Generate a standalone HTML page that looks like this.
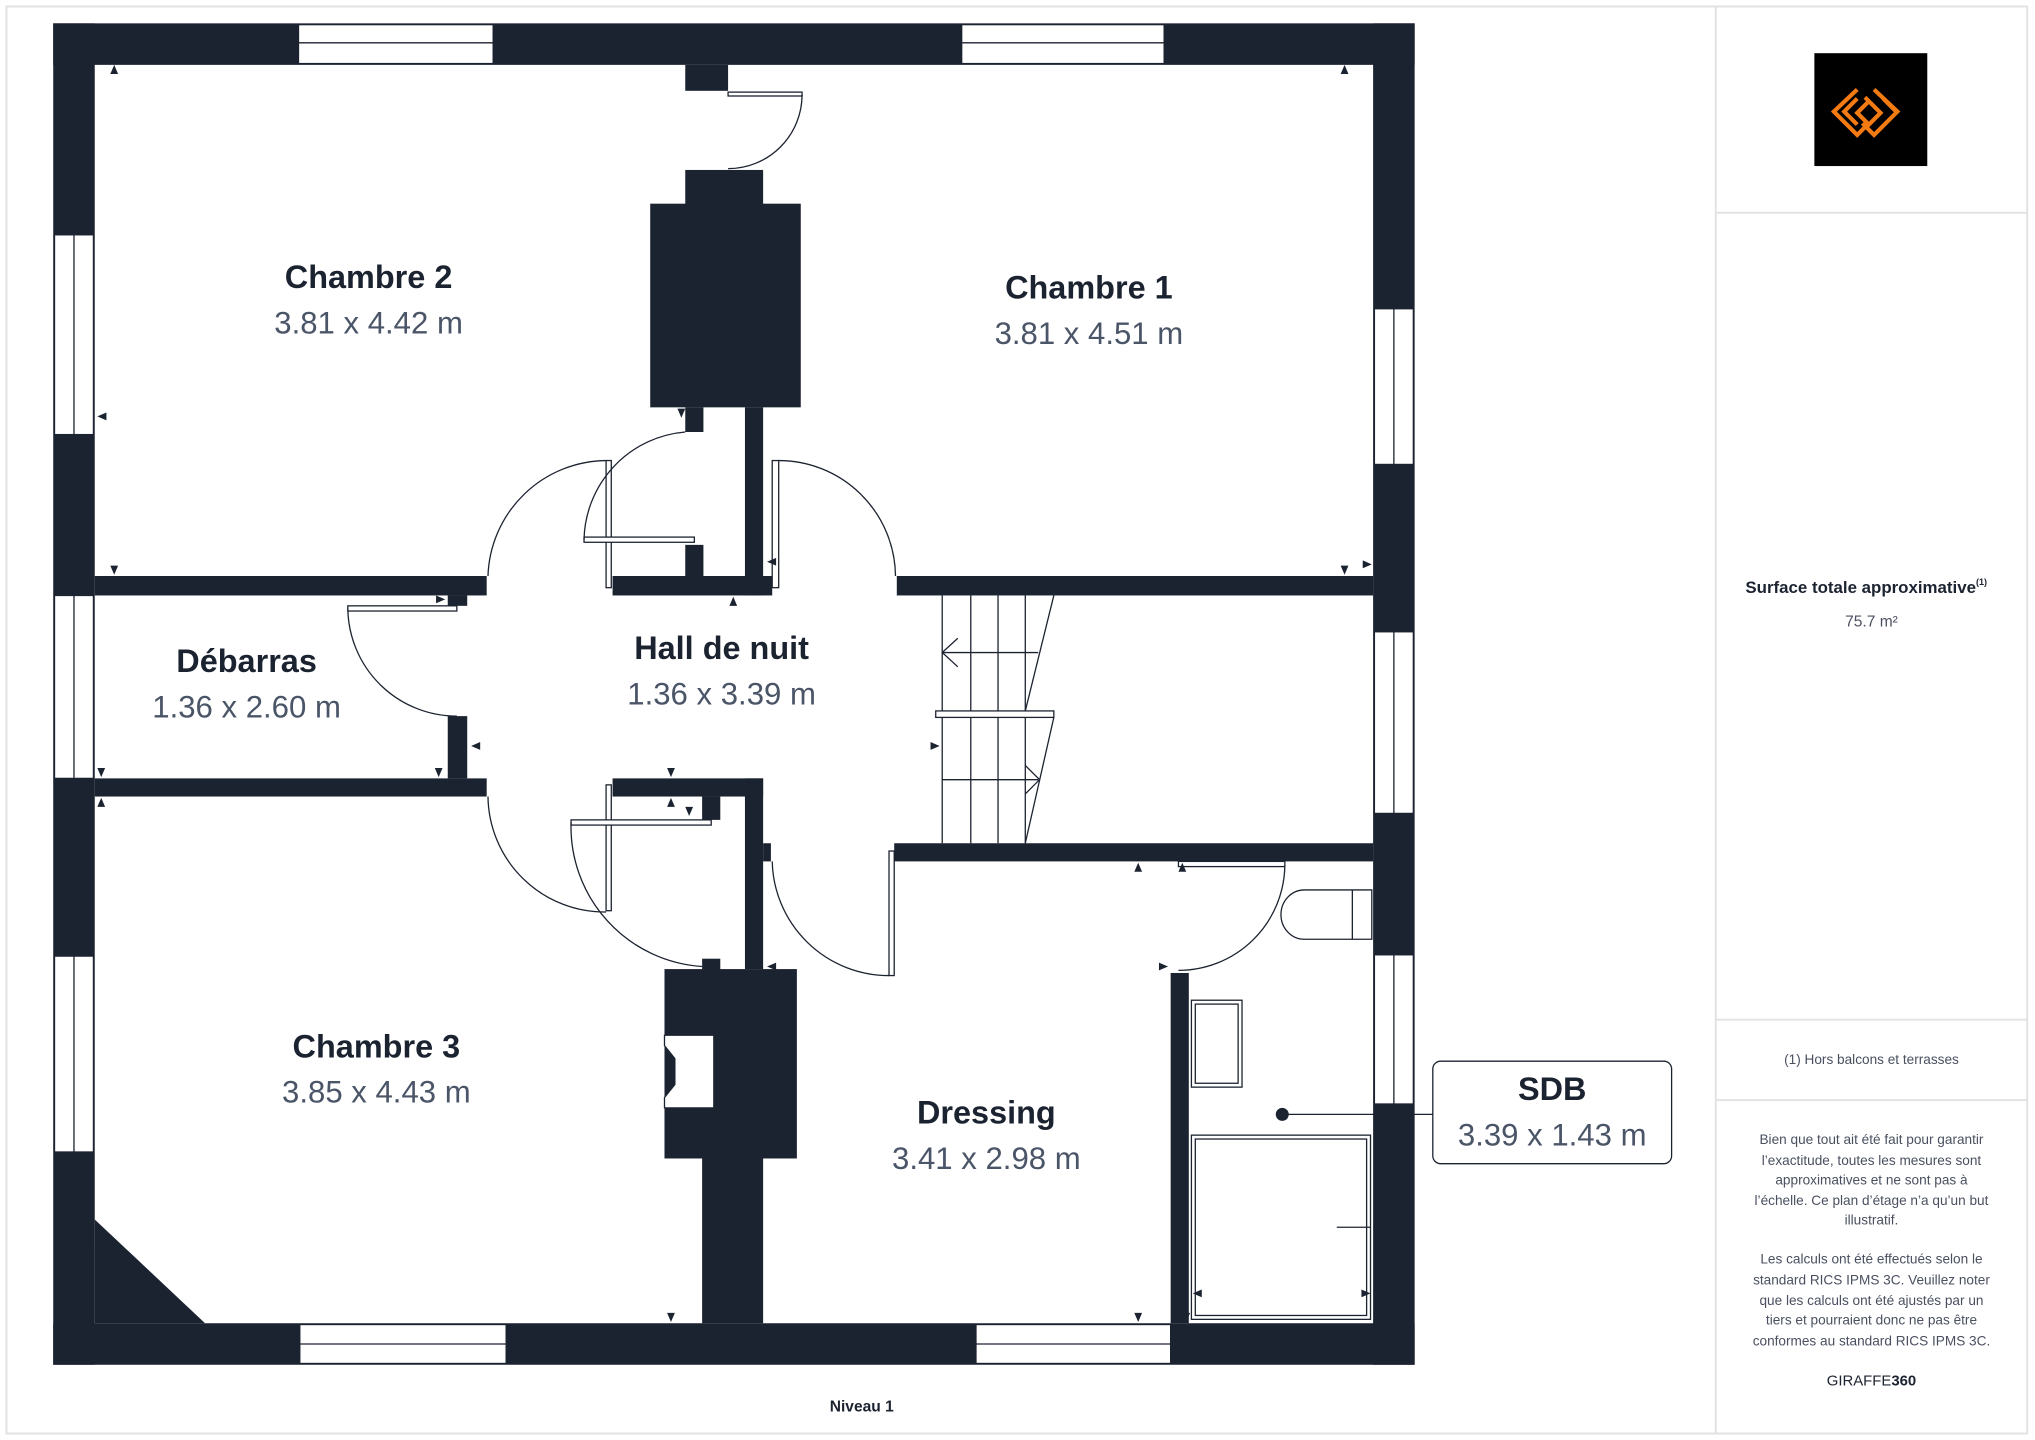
<!DOCTYPE html>
<html><head><meta charset="utf-8"><style>
html,body{margin:0;padding:0;background:#fff;}
svg{display:block;}
text{font-family:"Liberation Sans",sans-serif;}
</style></head><body>
<svg width="2035" height="1440" viewBox="0 0 1568 1110" preserveAspectRatio="none" xmlns="http://www.w3.org/2000/svg">
<rect x="0" y="0" width="1568" height="1110" fill="#fff"/>
<rect x="5" y="5" width="1557" height="1100" fill="none" stroke="#e2e2e2" stroke-width="1.5"/>
<line x1="1322" y1="5" x2="1322" y2="1105" stroke="#e2e2e2" stroke-width="1.5"/>
<line x1="1322" y1="164" x2="1562" y2="164" stroke="#e2e2e2" stroke-width="1.5"/>
<line x1="1322" y1="786" x2="1562" y2="786" stroke="#e2e2e2" stroke-width="1.5"/>
<line x1="1322" y1="848" x2="1562" y2="848" stroke="#e2e2e2" stroke-width="1.5"/>
<!-- logo -->
<rect x="1398" y="41" width="87" height="87" fill="#000"/>
<g fill="none" stroke="#f47a12" stroke-width="3.2">
<path d="M1431,69 L1413,86 L1431,104 L1440,95"/>
<path d="M1431,76 L1421,86 L1431,96"/>
<path d="M1437,75 L1449,87 L1440,96 L1431,87 L1440,78"/>
<path d="M1444,69 L1462,86 L1444,104 L1435,95"/>
<path d="M1451,76 L1461,86"/>
</g>
<g font-size="13" fill="#1c2330" text-anchor="middle">
<text x="1438" y="457" font-weight="bold">Surface totale approximative<tspan font-size="7" dy="-6">(1)</tspan></text>
<text x="1442" y="483" fill="#4a5060" font-size="12">75.7 m²</text>
<text x="1442" y="820" fill="#4a5060" font-size="10.5">(1) Hors balcons et terrasses</text>
<g fill="#4a5060" font-size="10.5">
<text x="1442" y="882">Bien que tout ait été fait pour garantir</text>
<text x="1442" y="898">l’exactitude, toutes les mesures sont</text>
<text x="1442" y="913">approximatives et ne sont pas à</text>
<text x="1442" y="929">l’échelle. Ce plan d’étage n’a qu’un but</text>
<text x="1442" y="944">illustratif.</text>
<text x="1442" y="974">Les calculs ont été effectués selon le</text>
<text x="1442" y="990">standard RICS IPMS 3C. Veuillez noter</text>
<text x="1442" y="1006">que les calculs ont été ajustés par un</text>
<text x="1442" y="1021">tiers et pourraient donc ne pas être</text>
<text x="1442" y="1037">conformes au standard RICS IPMS 3C.</text>
</g>
<text x="1442" y="1068" font-size="11.5">GIRAFFE<tspan font-weight="bold">360</tspan></text>
<text x="664" y="1088" font-size="12" font-weight="bold">Niveau 1</text>
</g>

<!-- walls -->
<g fill="#1c2330">
<rect x="41" y="18" width="1049" height="32"/>
<rect x="41" y="1020" width="1049" height="32"/>
<rect x="41" y="18" width="32" height="1034"/>
<rect x="1058" y="18" width="32" height="1034"/>
<polygon points="73,940 158,1020 73,1020"/>
<rect x="73" y="444" width="302" height="15"/>
<rect x="73" y="600" width="302" height="14"/>
<rect x="345" y="552" width="15" height="48"/>
<rect x="345" y="459" width="15" height="8"/>
<rect x="528" y="50" width="33" height="20"/>
<rect x="528" y="131" width="60" height="30"/>
<rect x="501" y="157" width="116" height="157"/>
<rect x="528" y="314" width="14" height="19"/>
<rect x="574" y="314" width="14" height="145"/>
<rect x="528" y="420" width="14" height="30"/>
<rect x="472" y="444" width="123" height="15"/>
<rect x="691" y="444" width="367" height="15"/>
<rect x="472" y="600" width="116" height="14"/>
<rect x="574" y="600" width="14" height="147"/>
<rect x="541" y="614" width="14" height="18"/>
<rect x="689" y="650" width="369" height="14"/>
<rect x="512" y="747" width="102" height="146"/>
<rect x="541" y="893" width="47" height="127"/>
<rect x="541" y="739" width="14" height="10"/>
<rect x="588" y="650" width="6" height="14"/>
<rect x="902" y="750" width="14" height="270"/>
</g>
<!-- windows -->
<g fill="#fff" stroke="#1c2330" stroke-width="1">
<rect x="230" y="19" width="150" height="30"/>
<rect x="741" y="19" width="156" height="30"/>
<rect x="231" y="1021" width="159" height="30"/>
<rect x="752" y="1021" width="150" height="30"/>
<rect x="42" y="181" width="30" height="154"/>
<rect x="42" y="459" width="30" height="141"/>
<rect x="42" y="737" width="30" height="151"/>
<rect x="1059" y="238" width="30" height="120"/>
<rect x="1059" y="487" width="30" height="140"/>
<rect x="1059" y="736" width="30" height="115"/>
</g>
<g stroke="#1c2330" stroke-width="1">
<line x1="230" y1="33" x2="380" y2="33"/><line x1="741" y1="33" x2="897" y2="33"/>
<line x1="231" y1="1036" x2="390" y2="1036"/><line x1="752" y1="1036" x2="902" y2="1036"/>
<line x1="57" y1="181" x2="57" y2="335"/><line x1="57" y1="459" x2="57" y2="600"/><line x1="57" y1="737" x2="57" y2="888"/>
<line x1="1074" y1="238" x2="1074" y2="358"/><line x1="1074" y1="487" x2="1074" y2="627"/><line x1="1074" y1="736" x2="1074" y2="851"/>
</g>
<!-- doors -->
<g fill="#fff" stroke="#1c2330" stroke-width="1">
<rect x="561" y="71" width="57" height="3"/>
<rect x="467" y="355" width="4" height="98"/>
<rect x="450" y="414" width="85" height="4"/>
<rect x="595" y="355" width="5" height="98"/>
<rect x="268" y="467" width="84" height="4"/>
<rect x="467" y="605" width="4" height="97"/>
<rect x="440" y="632" width="108" height="4"/>
<rect x="685" y="656" width="4" height="96"/>
<rect x="908" y="664" width="82" height="4"/>
</g>
<g fill="none" stroke="#1c2330" stroke-width="1">
<path d="M618,73 A57,57 0 0 1 561,130"/>
<path d="M467,355 A92,92 0 0 0 376,444"/>
<path d="M450,416 A85,85 0 0 1 528,333"/>
<path d="M600,355 A90,90 0 0 1 690,444"/>
<path d="M268,469 A84,84 0 0 0 352,552"/>
<path d="M376,614 A90,90 0 0 0 467,703"/>
<path d="M440,634 A108,108 0 0 0 541,745"/>
<path d="M595,664 A90,90 0 0 0 685,752"/>
<path d="M990,667 A82,82 0 0 1 908,748"/>
<!-- stairs -->
<line x1="726" y1="459" x2="726" y2="650"/><line x1="748" y1="459" x2="748" y2="650"/>
<line x1="769" y1="459" x2="769" y2="650"/><line x1="790" y1="459" x2="790" y2="650"/>
<line x1="812" y1="459" x2="790" y2="548"/><line x1="812" y1="553" x2="790" y2="650"/>
<line x1="726" y1="503" x2="800" y2="503"/><path d="M738,492 L726,503 L738,514"/>
<line x1="726" y1="601" x2="800" y2="601"/><path d="M790,590 L801,601 L790,612"/>
<rect x="721" y="548" width="91" height="5" fill="#fff"/>
<!-- SDB fixtures -->
<path d="M1057,686 L1005,686 A18,19 0 0 0 1005,724 L1057,724 Z"/>
<line x1="1042" y1="686" x2="1042" y2="724"/>
<rect x="918" y="771" width="39" height="67"/><rect x="921" y="774" width="33" height="61"/>
<rect x="918" y="875" width="138" height="142"/><rect x="921" y="878" width="132" height="136"/>
<line x1="1030" y1="946" x2="1056" y2="946"/>
<path d="M512,798 L550,798 L550,854 L512,854 L512,846 L520,836 L520,816 L512,806 Z" fill="#fff"/>
<line x1="988" y1="859" x2="1104" y2="859"/>
</g>
<circle cx="988" cy="859" r="5" fill="#1c2330"/>
<rect x="1104" y="818" width="184" height="79" rx="6" fill="#fff" stroke="#1c2330" stroke-width="1"/>
<!-- markers -->
<g fill="#1c2330">
<path d="M85,57 l3,-7 3,7z"/><path d="M1033,57 l3,-7 3,7z"/>
<path d="M85,436 l3,7 3,-7z"/><path d="M1033,436 l3,7 3,-7z"/>
<path d="M82,318 l-7,3 7,3z"/><path d="M1050,432 l7,3 -7,3z"/>
<path d="M562,467 l3,-7 3,7z"/><path d="M522,315 l3,7 3,-7z"/>
<path d="M598,430 l-7,3 7,3z"/><path d="M370,572 l-7,3 7,3z"/>
<path d="M336,459 l7,3 -7,3z"/><path d="M75,592 l3,7 3,-7z"/><path d="M335,592 l3,7 3,-7z"/>
<path d="M75,622 l3,-7 3,7z"/><path d="M514,622 l3,-7 3,7z"/><path d="M528,622 l3,7 3,-7z"/>
<path d="M514,592 l3,7 3,-7z"/><path d="M717,572 l7,3 -7,3z"/>
<path d="M598,742 l-7,3 7,3z"/><path d="M874,672 l3,-7 3,7z"/><path d="M908,672 l3,-7 3,7z"/>
<path d="M893,742 l7,3 -7,3z"/><path d="M514,1012 l3,7 3,-7z"/><path d="M874,1012 l3,7 3,-7z"/>
<path d="M911,1012 l3,7 3,-7z"/><path d="M926,994 l-7,3 7,3z"/><path d="M1049,994 l7,3 -7,3z"/>
</g>
<!-- labels -->
<g text-anchor="middle">
<g font-weight="bold" font-size="25" fill="#1c2330">
<text x="284" y="222">Chambre 2</text>
<text x="839" y="230">Chambre 1</text>
<text x="190" y="518">Débarras</text>
<text x="556" y="508">Hall de nuit</text>
<text x="290" y="815">Chambre 3</text>
<text x="760" y="866">Dressing</text>
<text x="1196" y="848">SDB</text>
</g>
<g font-size="24" fill="#4b5568">
<text x="284" y="257">3.81 x 4.42 m</text>
<text x="839" y="265">3.81 x 4.51 m</text>
<text x="190" y="553">1.36 x 2.60 m</text>
<text x="556" y="543">1.36 x 3.39 m</text>
<text x="290" y="850">3.85 x 4.43 m</text>
<text x="760" y="901">3.41 x 2.98 m</text>
<text x="1196" y="883">3.39 x 1.43 m</text>
</g>
</g>
</svg>
</body></html>
